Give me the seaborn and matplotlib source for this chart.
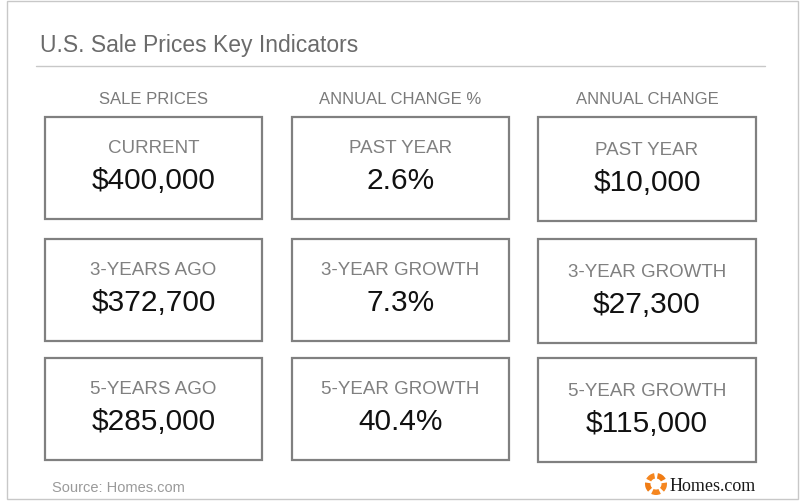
import matplotlib
matplotlib.use("Agg")
import matplotlib.pyplot as plt
from matplotlib.patches import Rectangle, Wedge
import seaborn as sns

# %% data read off the infographic
sections = ["SALE PRICES", "ANNUAL CHANGE %", "ANNUAL CHANGE"]
sale_labels = ["CURRENT", "3-YEARS AGO", "5-YEARS AGO"]
sale_values = [400000, 372700, 285000]
pct_labels = ["PAST YEAR", "3-YEAR GROWTH", "5-YEAR GROWTH"]
pct_values = [2.6, 7.3, 40.4]
chg_labels = ["PAST YEAR", "3-YEAR GROWTH", "5-YEAR GROWTH"]
chg_values = [10000, 27300, 115000]

title = "U.S. Sale Prices Key Indicators"
source = "Source: Homes.com"

# %% style
sns.set_theme(style="white")
plt.rcParams["font.family"] = ["Liberation Sans", "DejaVu Sans"]

fig = plt.figure(figsize=(8, 5.01), dpi=100)
ax = fig.add_axes([0, 0, 1, 1])
ax.set_xlim(0, 800)
ax.set_ylim(501, 0)
ax.axis("off")

# outer frame + title rule
ax.add_patch(Rectangle((6.5, 0.5), 791, 498.5, fill=False, ec="#c8c8c8", lw=1))
ax.text(40, 52, title, fontsize=16.5, color="#6b6b6b", va="baseline", ha="left")
ax.plot([36, 765], [66, 66], color="#c8c8c8", lw=1)

# %% card grid
columns = [
    (sale_labels, [f"${v:,.0f}" for v in sale_values]),
    (pct_labels, [f"{v}%" for v in pct_values]),
    (chg_labels, [f"${v:,.0f}" for v in chg_values]),
]
col_left = [45, 292, 538]
col_width = [217, 217, 218]
col_height = [102, 102, 104]
col_shift = [0, 0, 2]
row_top = [117, 239, 358]

for c, (labels, vals) in enumerate(columns):
    cx = col_left[c] + col_width[c] / 2
    ax.text(cx, 104, sections[c], fontsize=12, color="#7a7a7a",
            ha="center", va="baseline")
    for r in range(3):
        top = row_top[r]
        ax.add_patch(Rectangle((col_left[c], top), col_width[c], col_height[c],
                               fill=False, ec="#808080", lw=1.6))
        ax.text(cx, top + 36 + col_shift[c], labels[r], fontsize=13.5,
                color="#808080", ha="center", va="baseline")
        ax.text(cx, top + 72 + col_shift[c], vals[r], fontsize=21.5,
                color="#111111", ha="center", va="baseline")

# %% footer
ax.text(52, 492, source, fontsize=10.5, color="#9a9a9a", ha="left", va="baseline")

# logo mark: ring of five orange pieces
for k in range(5):
    a = 90 + 72 * k
    ax.add_patch(Wedge((656, 484), 11, a - 26, a + 26, width=5.5,
                       color="#f5861f" if k % 2 == 0 else "#f07c14", lw=0))
ax.text(670, 491, "Homes.com", fontsize=13, color="#1a1a1a",
        family=["Liberation Serif", "DejaVu Serif"], ha="left", va="baseline")

fig.savefig("out.png", dpi=100)
